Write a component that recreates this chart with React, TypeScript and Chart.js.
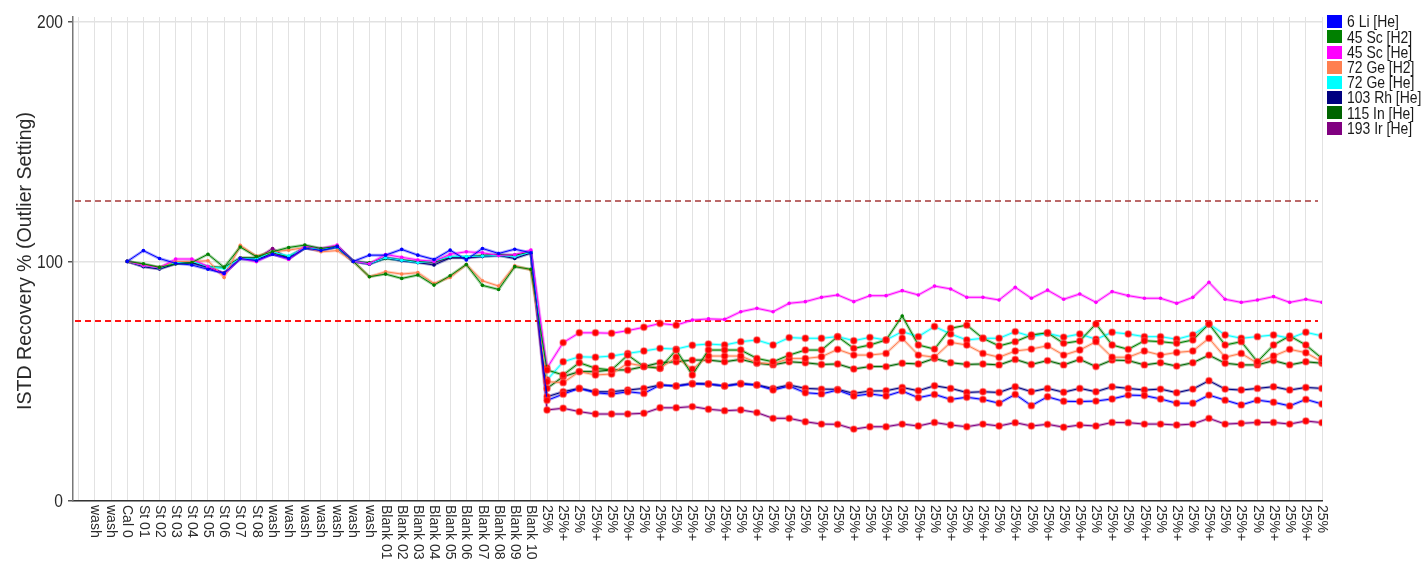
import React, { useEffect, useRef } from 'react';
import { Chart, registerables } from 'chart.js';

Chart.register(...registerables);

const CATEGORIES: string[] = [
  'wash', 'wash', 'Cal 0', 'St 01', 'St 02', 'St 03', 'St 04', 'St 05', 'St 06', 'St 07', 'St 08',
  'wash', 'wash', 'wash', 'wash', 'wash', 'wash', 'wash',
  'Blank 01', 'Blank 02', 'Blank 03', 'Blank 04', 'Blank 05', 'Blank 06', 'Blank 07', 'Blank 08', 'Blank 09', 'Blank 10',
  '25%', '25%+', '25%', '25%+', '25%', '25%+', '25%', '25%+', '25%', '25%+',
  '25%', '25%+', '25%', '25%+', '25%', '25%+', '25%', '25%+', '25%', '25%+',
  '25%', '25%+', '25%', '25%+', '25%', '25%+', '25%', '25%+', '25%', '25%+',
  '25%', '25%+', '25%', '25%+', '25%', '25%+', '25%', '25%+', '25%', '25%+',
  '25%', '25%+', '25%', '25%+', '25%', '25%+', '25%', '25%+', '25%',
];

const SERIES_NAMES = ['6 Li [He]', '45 Sc [H2]', '45 Sc [He]', '72 Ge [H2]', '72 Ge [He]', '103 Rh [He]', '115 In [He]', '193 Ir [He]'];
const SERIES_COLORS = ['#0000ff', '#008000', '#ff00ff', '#ff7f50', '#00ffff', '#000080', '#006400', '#800080'];

const LI6_HE = [null, null,
  100, 104.5, 101.2, 99.2, 98.5, 96.7, 95, 101.2, 100.3, 103, 101.2, 105.6, 104.5, 106.2, 100, 102.6, 102.6, 105, 102.6, 100.8, 104.7, 100.6, 105.4, 103.3, 105.1, 103.6,
  42, 44.6, 47, 45.2, 44.6, 45.6, 44.9, 48.4, 48, 48.8, 48.8, 48, 48.8, 48.4, 46.3, 48, 45.2, 44.7, 46.3, 43.8, 44.7, 43.8, 45.9, 43.1, 44.5, 42.4, 43.3, 42.4, 40.8, 44.5, 39.8, 43.5, 41.6, 41.5, 41.7, 42.6, 44.2, 44, 42.6, 40.8, 40.8, 44.2, 42.1, 40.1, 42.1, 41.2, 39.7, 42.4, 40.5];
const SC45_H2 = [null, null,
  100, 99, 97.5, 99, 99.5, 103, 97.5, 106, 102, 104, 105.8, 106.8, 105.4, 106.3, 100, 93.6, 94.7, 92.9, 94.3, 90.1, 94, 98.7, 90, 88.3, 97.8, 96.7,
  54.7, 52.6, 57.7, 55.4, 54.7, 60.9, 56.1, 55.4, 63, 52.6, 63, 63, 63, 59.5, 58.1, 60.9, 63, 63, 68.6, 63.7, 65.1, 67.2, 77.2, 65.1, 63.4, 72.1, 73.4, 67.9, 64.7, 66.5, 69.3, 70.2, 65.8, 66.8, 73.9, 65.1, 63.3, 66.9, 66.5, 65.8, 67.2, 73.9, 65.1, 66.5, 58.1, 65.1, 68.9, 65.1, 59.5];
const SC45_HE = [null, null,
  100, 98.3, 97.3, 101, 101, 97.8, 94.7, 101.3, 99.9, 103.2, 100.8, 106.4, 105.4, 106.8, 100, 99, 102.9, 101.7, 100.6, 100, 103, 104, 103.6, 102.5, 102.8, 104.7,
  55.5, 66.1, 70.2, 70.2, 70, 71.1, 72.5, 74.1, 73.4, 75.5, 76, 75.8, 79, 80.4, 79, 82.5, 83.2, 85, 86, 83.2, 85.7, 85.7, 87.8, 86, 89.7, 88.5, 85, 85, 83.9, 89.2, 84.6, 88, 84.2, 86.4, 82.9, 87.4, 85.7, 84.6, 84.6, 82.5, 85, 91.3, 84.2, 82.9, 83.9, 85.3, 82.9, 84.2, 82.9];
const GE72_H2 = [null, null,
  100, 98.5, 97.5, 100, 99.9, 100.3, 93.3, 106.7, 102.2, 104, 104.7, 105.8, 104, 104.5, 100, 93.6, 95.7, 94.7, 95.3, 90.8, 93.3, 98.7, 91.9, 89.7, 98.2, 96.4,
  49.8, 49.4, 54, 52.6, 53, 57.5, 56.3, 55.4, 60, 55, 60.5, 60.5, 60.5, 57.7, 57.2, 59.5, 59.5, 60.2, 63.3, 60.9, 60.9, 61.6, 67.9, 60.9, 60, 66.2, 65.1, 61.6, 60, 62.6, 63.4, 64.8, 60.9, 63, 66.5, 60, 60, 62.6, 60.9, 62, 62.6, 67.9, 60, 61.6, 57.5, 60.5, 63.3, 61.9, 58.1];
const GE72_HE = [null, null,
  100, 98.2, 97.2, 99.5, 100, 97.8, 97.1, 101.2, 101, 104, 102.2, 105.6, 105, 106, 100, 99, 101.5, 100.5, 99.5, 100, 102, 102, 102.2, 102.5, 102, 103.8,
  50.5, 58.1, 60.2, 60, 60.5, 61.6, 62.6, 63.7, 63.4, 65, 65.5, 65.1, 66.5, 67.2, 65.1, 68.2, 67.9, 67.9, 68.6, 66.9, 68.3, 67.2, 70.7, 68.6, 72.8, 69.7, 67.2, 67.9, 67.9, 70.7, 68.6, 70, 68.4, 69.7, 67.5, 70.4, 69.7, 68.6, 68.6, 67.5, 69.3, 73.9, 69.3, 67.9, 68.6, 69.3, 67.9, 70.4, 68.9];
const RH103_HE = [null, null,
  100, 97.8, 96.8, 99, 99.5, 97.5, 95, 101.2, 101, 103, 101.5, 105.5, 104.7, 106, 100, 98.8, 101.5, 100.3, 99.5, 98.5, 101.5, 101.5, 102, 102.5, 101.2, 103.5,
  43.5, 45.6, 47, 45.6, 45.6, 46.3, 47, 48.4, 48, 49.1, 48.8, 48, 49.1, 48.4, 47, 48.4, 47, 46.7, 46.6, 44.9, 45.9, 46, 47.4, 46, 48.1, 47, 45.3, 45.6, 45.3, 47.7, 45.6, 47, 45.4, 47, 45.6, 47.7, 47, 46.3, 46.7, 45.2, 46.7, 50.2, 46.7, 46.3, 47, 47.7, 46.3, 47.4, 47];
const IN115_HE = [null, null,
  100, 98.5, 97.5, 99.3, 99.5, 97.8, 97.5, 101.5, 101.5, 103.5, 102, 105.7, 105, 106, 100, 99.4, 101.2, 100.6, 99.8, 99.8, 101.8, 101.8, 102.5, 102.8, 102.6, 103.8,
  47, 51.9, 54, 54, 54.7, 54.7, 56.1, 57.7, 58.1, 58.8, 58.8, 58.1, 59.1, 57.5, 56.8, 58.1, 57.7, 57, 57.2, 55.1, 56.1, 56.1, 57.5, 57.2, 59.5, 57.7, 57, 57.2, 56.8, 59.1, 57, 58.6, 56.8, 59.1, 56.1, 58.8, 58.6, 56.8, 57.7, 56.3, 57.7, 60.9, 57.5, 56.8, 56.8, 58.6, 56.8, 58.1, 57.5];
const IR193_HE = [null, null,
  100, 98, 97, 99.3, 99.7, 97.6, 95, 101.2, 101, 105.4, 101, 105.6, 105, 106.2, 100, 99, 101.6, 100.5, 99.6, 99.6, 101.6, 101.6, 102.2, 102.6, 102.2, 103.6,
  38, 38.7, 37.3, 36.3, 36.3, 36.3, 36.6, 38.9, 38.9, 39.4, 38.3, 37.7, 38, 36.9, 34.5, 34.5, 33.1, 32.1, 32, 30, 31, 31, 32.1, 31.3, 32.8, 31.7, 31, 32.1, 31.3, 32.7, 31.3, 32, 30.8, 31.7, 31.3, 32.8, 32.7, 32.1, 32.1, 31.7, 32.1, 34.5, 32.1, 32.4, 32.8, 32.8, 32.1, 33.4, 32.7];

const SERIES_VALUES = [LI6_HE, SC45_H2, SC45_HE, GE72_H2, GE72_HE, RH103_HE, IN115_HE, IR193_HE];

const Y_TICKS = [0, 100, 200];
const Y_MAX = 202;
const UPPER_LIMIT = 125;
const LOWER_LIMIT = 75;
const Y_TITLE = 'ISTD Recovery % (Outlier Setting)';

function hexToRgba(hex: string, a: number) {
  const n = parseInt(hex.slice(1), 16);
  return `rgba(${(n >> 16) & 255},${(n >> 8) & 255},${n & 255},${a})`;
}

const SANS = '"Liberation Sans", Arial, sans-serif';
const NARROW_FACTOR = 0.82;

function narrowText(ctx: CanvasRenderingContext2D, text: string, x: number, y: number, size: number, align: 'left' | 'right' | 'center') {
  ctx.save();
  ctx.font = `${size}px ${SANS}`;
  ctx.textAlign = align;
  ctx.textBaseline = 'middle';
  ctx.translate(x, y);
  ctx.scale(NARROW_FACTOR, 1);
  ctx.fillText(text, 0, 0);
  ctx.restore();
}

const overlayPlugin = {
  id: 'overlay',
  beforeDatasetsDraw(chart: any) {
    const { ctx, chartArea, scales } = chart;
    const y = scales.y;
    ctx.save();
    [
      { v: UPPER_LIMIT, c: 'rgb(165,55,55)', w: 1.3 },
      { v: LOWER_LIMIT, c: 'rgb(255,20,20)', w: 2 },
    ].forEach(({ v, c, w }) => {
      const py = Math.round(y.getPixelForValue(v));
      ctx.strokeStyle = c;
      ctx.lineWidth = w;
      ctx.setLineDash([6, 4]);
      ctx.beginPath();
      ctx.moveTo(chartArea.left + 2, py);
      ctx.lineTo(chartArea.right - 4, py);
      ctx.stroke();
    });
    ctx.restore();
  },
  afterDraw(chart: any) {
    const { ctx, chartArea, scales } = chart;
    const x = scales.x;
    const y = scales.y;
    ctx.save();
    // x labels, rotated clockwise
    ctx.fillStyle = '#2a2a2a';
    ctx.font = `14px ${SANS}`;
    ctx.textAlign = 'left';
    ctx.textBaseline = 'middle';
    CATEGORIES.forEach((lab, i) => {
      const px = x.getPixelForValue(i);
      ctx.save();
      ctx.translate(px, chartArea.bottom + 4);
      ctx.rotate(Math.PI / 2);
      ctx.fillText(lab, 0, 0);
      ctx.restore();
    });
    // y tick labels
    ctx.fillStyle = '#2a2a2a';
    Y_TICKS.forEach((v) => {
      narrowText(ctx, String(v), chartArea.left - 10, y.getPixelForValue(v) + 1, 19, 'right');
    });
    // y title
    ctx.save();
    ctx.font = `21px ${SANS}`;
    ctx.fillStyle = '#2a2a2a';
    ctx.textAlign = 'center';
    ctx.textBaseline = 'middle';
    const w = ctx.measureText(Y_TITLE).width;
    ctx.translate(25, (chartArea.top + chartArea.bottom) / 2 + 2);
    ctx.rotate(-Math.PI / 2);
    ctx.scale(298 / w, 1);
    ctx.fillText(Y_TITLE, 0, 0);
    ctx.restore();
    // legend
    SERIES_NAMES.forEach((name, k) => {
      const cy = 21.7 + k * 15.2;
      ctx.fillStyle = SERIES_COLORS[k];
      ctx.fillRect(1327, Math.round(cy - 6.5), 15, 13);
      ctx.fillStyle = '#1a1a1a';
      narrowText(ctx, name, 1347, cy + 1, 17, 'left');
    });
    ctx.restore();
  },
};

export default function App() {
  const ref = useRef<HTMLCanvasElement | null>(null);
  useEffect(() => {
    if (!ref.current) return;
    const datasets: any[] = [];
    SERIES_VALUES.forEach((vals, k) => {
      const data = CATEGORIES.map((_, i) => ({ x: i, y: vals[i] }));
      datasets.push({
        label: SERIES_NAMES[k] + ' halo',
        data,
        borderColor: hexToRgba(SERIES_COLORS[k], 0.35),
        borderWidth: 3,
        pointRadius: 0,
        fill: false,
        tension: 0,
        order: 2,
      });
      datasets.push({
        label: SERIES_NAMES[k],
        data,
        borderColor: SERIES_COLORS[k],
        borderWidth: 1,
        fill: false,
        tension: 0,
        order: 1,
        pointRadius: (c: any) => {
          const v = c.raw && c.raw.y;
          if (v == null) return 0;
          return v < LOWER_LIMIT ? 3.2 : 1.8;
        },
        pointBackgroundColor: (c: any) => {
          const v = c.raw && c.raw.y;
          return v != null && v < LOWER_LIMIT ? '#ff0000' : SERIES_COLORS[k];
        },
        pointBorderColor: (c: any) => {
          const v = c.raw && c.raw.y;
          return v != null && v < LOWER_LIMIT ? 'rgba(255,80,80,0.45)' : SERIES_COLORS[k];
        },
        pointBorderWidth: (c: any) => {
          const v = c.raw && c.raw.y;
          return v != null && v < LOWER_LIMIT ? 1.5 : 0;
        },
      });
    });

    const chart = new Chart(ref.current, {
      type: 'line',
      data: { datasets },
      options: {
        animation: false,
        responsive: false,
        devicePixelRatio: 1,
        layout: { padding: { top: 17, right: 104, left: 0, bottom: 0 } },
        plugins: { legend: { display: false }, tooltip: { enabled: false } },
        scales: {
          x: {
            type: 'linear',
            min: -1.36,
            max: CATEGORIES.length - 1,
            afterBuildTicks: (s: any) => {
              s.ticks = [-1, ...CATEGORIES.map((_, i) => i)].map((v) => ({ value: v }));
            },
            afterFit: (s: any) => {
              s.height = 61;
            },
            ticks: { display: false },
            grid: { color: '#e2e2e2', lineWidth: 1, drawTicks: false },
            border: { color: '#333', width: 1.5 },
          },
          y: {
            type: 'linear',
            min: 0,
            max: Y_MAX,
            afterBuildTicks: (s: any) => {
              s.ticks = Y_TICKS.map((v) => ({ value: v }));
            },
            afterFit: (s: any) => {
              s.width = 73;
            },
            ticks: { display: false },
            grid: { color: '#e2e2e2', lineWidth: 1.5, tickLength: 5, tickColor: '#555' },
            border: { color: '#777', width: 1.5 },
          },
        },
      } as any,
      plugins: [overlayPlugin],
    });
    return () => chart.destroy();
  }, []);

  return (
    <div style={{ position: 'fixed', left: 0, top: 0, width: 1426, height: 562, background: '#fff' }}>
      <canvas ref={ref} width={1426} height={562} style={{ display: 'block' }} />
    </div>
  );
}
